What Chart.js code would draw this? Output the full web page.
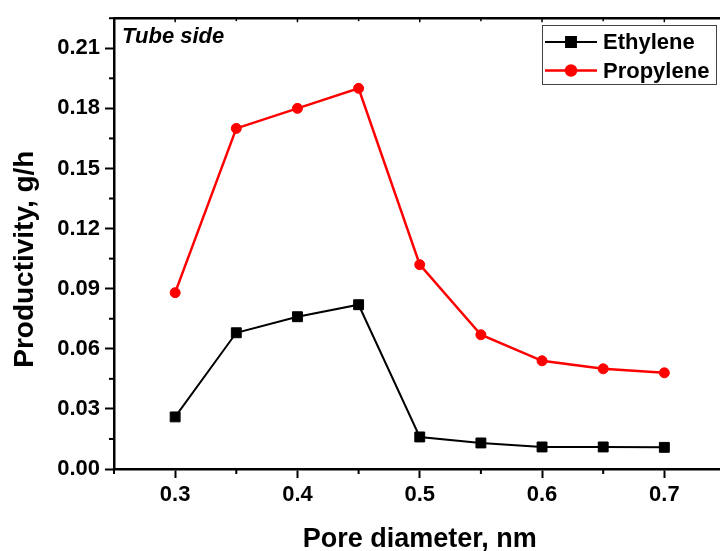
<!DOCTYPE html>
<html>
<head>
<meta charset="utf-8">
<script src="https://cdn.jsdelivr.net/npm/chart.js@4.4.1/dist/chart.umd.min.js"></script>
<style>
  html, body { margin: 0; padding: 0; background: #fff; overflow: hidden; }
  #wrap { width: 740px; height: 551px; }
</style>
</head>
<body>
<div id="wrap"><canvas id="chart" width="740" height="551"></canvas></div>
<script>
const poreDiameter = [0.30, 0.35, 0.40, 0.45, 0.50, 0.55, 0.60, 0.65, 0.70];
const ethylene = [0.026, 0.068, 0.076, 0.082, 0.016, 0.013, 0.011, 0.011, 0.0108];
const propylene = [0.088, 0.170, 0.180, 0.190, 0.102, 0.067, 0.054, 0.050, 0.048];
const xLabeled = [0.3, 0.4, 0.5, 0.6, 0.7];

const FONT = "'Liberation Sans', Arial, sans-serif";

function toPoints(ys) {
    return poreDiameter.map((x, i) => ({ x: x, y: ys[i] }));
}

function isMajorY(v) {
    return Math.round(v * 1000) % 30 === 0;
}

function isMajorX(v) {
    return xLabeled.some(l => Math.abs(l - v) < 1e-6);
}

// minor ticks, top frame line, the "Tube side" note and the framed legend
const extrasPlugin = {
    id: 'extras',
    afterDraw(chart) {
        const ctx = chart.ctx;
        const area = chart.chartArea;
        const xs = chart.scales.x;
        const ys = chart.scales.y;
        ctx.save();
        ctx.strokeStyle = '#000';

        // minor ticks (shorter)
        ctx.lineWidth = 2;
        xs.ticks.forEach(t => {
            if (isMajorX(t.value)) return;
            const px = xs.getPixelForValue(t.value);
            ctx.beginPath();
            ctx.moveTo(px, area.bottom);
            ctx.lineTo(px, area.bottom + 5);
            ctx.stroke();
        });
        ys.ticks.forEach(t => {
            if (isMajorY(t.value)) return;
            const py = ys.getPixelForValue(t.value);
            ctx.beginPath();
            ctx.moveTo(area.left, py);
            ctx.lineTo(area.left - 5, py);
            ctx.stroke();
        });

        // top frame with small inward ticks
        ctx.lineWidth = 2.5;
        ctx.beginPath();
        ctx.moveTo(area.left - 1, area.top);
        ctx.lineTo(area.right, area.top);
        ctx.stroke();
        ctx.lineWidth = 1.5;
        xs.ticks.forEach(t => {
            const px = xs.getPixelForValue(t.value);
            ctx.beginPath();
            ctx.moveTo(px, area.top);
            ctx.lineTo(px, area.top + (isMajorX(t.value) ? 4 : 3));
            ctx.stroke();
        });

        // note
        ctx.fillStyle = '#000';
        ctx.font = 'italic bold 22px ' + FONT;
        ctx.textBaseline = 'alphabetic';
        ctx.textAlign = 'left';
        ctx.fillText('Tube side', area.left + 8, area.top + 25);

        // legend
        const bx = 542, by = 25, bw = 174, bh = 59;
        ctx.lineWidth = 1;
        ctx.strokeStyle = '#444';
        ctx.strokeRect(bx + 0.5, by + 0.5, bw, bh);
        ctx.font = 'bold 22px ' + FONT;
        ctx.textBaseline = 'middle';
        chart.data.datasets.forEach((ds, i) => {
            const cy = by + 17 + i * 28.5;
            ctx.strokeStyle = ds.borderColor;
            ctx.lineWidth = ds.borderWidth;
            ctx.beginPath();
            ctx.moveTo(bx + 3, cy);
            ctx.lineTo(bx + 55, cy);
            ctx.stroke();
            ctx.fillStyle = ds.backgroundColor;
            ctx.strokeStyle = ds.borderColor;
            Chart.helpers.drawPoint(ctx, {
                pointStyle: ds.pointStyle,
                radius: ds.pointRadius,
                rotation: 0,
                borderWidth: 1
            }, bx + 29, cy);
            ctx.fillStyle = '#000';
            ctx.fillText(ds.label, bx + 61, cy + 1);
        });
        ctx.restore();
    }
};

new Chart(document.getElementById('chart'), {
    type: 'line',
    data: {
        datasets: [
            {
                label: 'Ethylene',
                data: toPoints(ethylene),
                borderColor: '#000000',
                backgroundColor: '#000000',
                borderWidth: 2,
                pointStyle: 'rect',
                pointRadius: 7,
                pointBorderWidth: 1,
                tension: 0
            },
            {
                label: 'Propylene',
                data: toPoints(propylene),
                borderColor: '#ff0000',
                backgroundColor: '#ff0000',
                borderWidth: 2.5,
                pointStyle: 'circle',
                pointRadius: 5,
                pointBorderWidth: 1,
                tension: 0
            }
        ]
    },
    options: {
        responsive: false,
        animation: false,
        devicePixelRatio: 1,
        layout: { padding: { left: 0, right: 14.5, top: 16, bottom: 0 } },
        plugins: {
            legend: { display: false },
            tooltip: { enabled: false }
        },
        scales: {
            x: {
                type: 'linear',
                min: 0.25,
                max: 0.75,
                afterFit(scale) { scale.height = 82; },
                afterBuildTicks(scale) {
                    const t = [];
                    for (let i = 0; i <= 10; i++) t.push({ value: 0.25 + i * 0.05 });
                    scale.ticks = t;
                },
                border: { display: true, color: '#000', width: 2.5 },
                grid: {
                    drawOnChartArea: false,
                    drawTicks: true,
                    tickLength: 9,
                    tickWidth: 2,
                    tickColor: c => (c.tick && isMajorX(c.tick.value)) ? '#000' : 'rgba(0,0,0,0)'
                },
                ticks: {
                    color: '#000',
                    padding: 4,
                    maxRotation: 0,
                    autoSkip: false,
                    font: { family: FONT, size: 22, weight: 'bold' },
                    callback: v => isMajorX(v) ? v.toFixed(1) : ''
                },
                title: {
                    display: true,
                    text: 'Pore diameter, nm',
                    color: '#000',
                    padding: 0,
                    font: { family: FONT, size: 27, weight: 'bold', lineHeight: 0.88 }
                }
            },
            y: {
                type: 'linear',
                min: 0,
                max: 0.225,
                afterFit(scale) { scale.width = 114; },
                afterBuildTicks(scale) {
                    const t = [];
                    for (let i = 0; i <= 15; i++) t.push({ value: i * 0.015 });
                    scale.ticks = t;
                },
                border: { display: true, color: '#000', width: 2.5 },
                grid: {
                    drawOnChartArea: false,
                    drawTicks: true,
                    tickLength: 9,
                    tickWidth: 2,
                    tickColor: c => (c.tick && isMajorY(c.tick.value)) ? '#000' : 'rgba(0,0,0,0)'
                },
                ticks: {
                    color: '#000',
                    padding: 5,
                    autoSkip: false,
                    font: { family: FONT, size: 22, weight: 'bold' },
                    callback: v => isMajorY(v) ? v.toFixed(2) : ''
                },
                title: {
                    display: true,
                    text: 'Productivity, g/h    ',
                    color: '#000',
                    padding: { top: 11, bottom: 0 },
                    font: { family: FONT, size: 28, weight: 'bold', lineHeight: 1 }
                }
            }
        }
    },
    plugins: [extrasPlugin]
});
</script>
</body>
</html>
